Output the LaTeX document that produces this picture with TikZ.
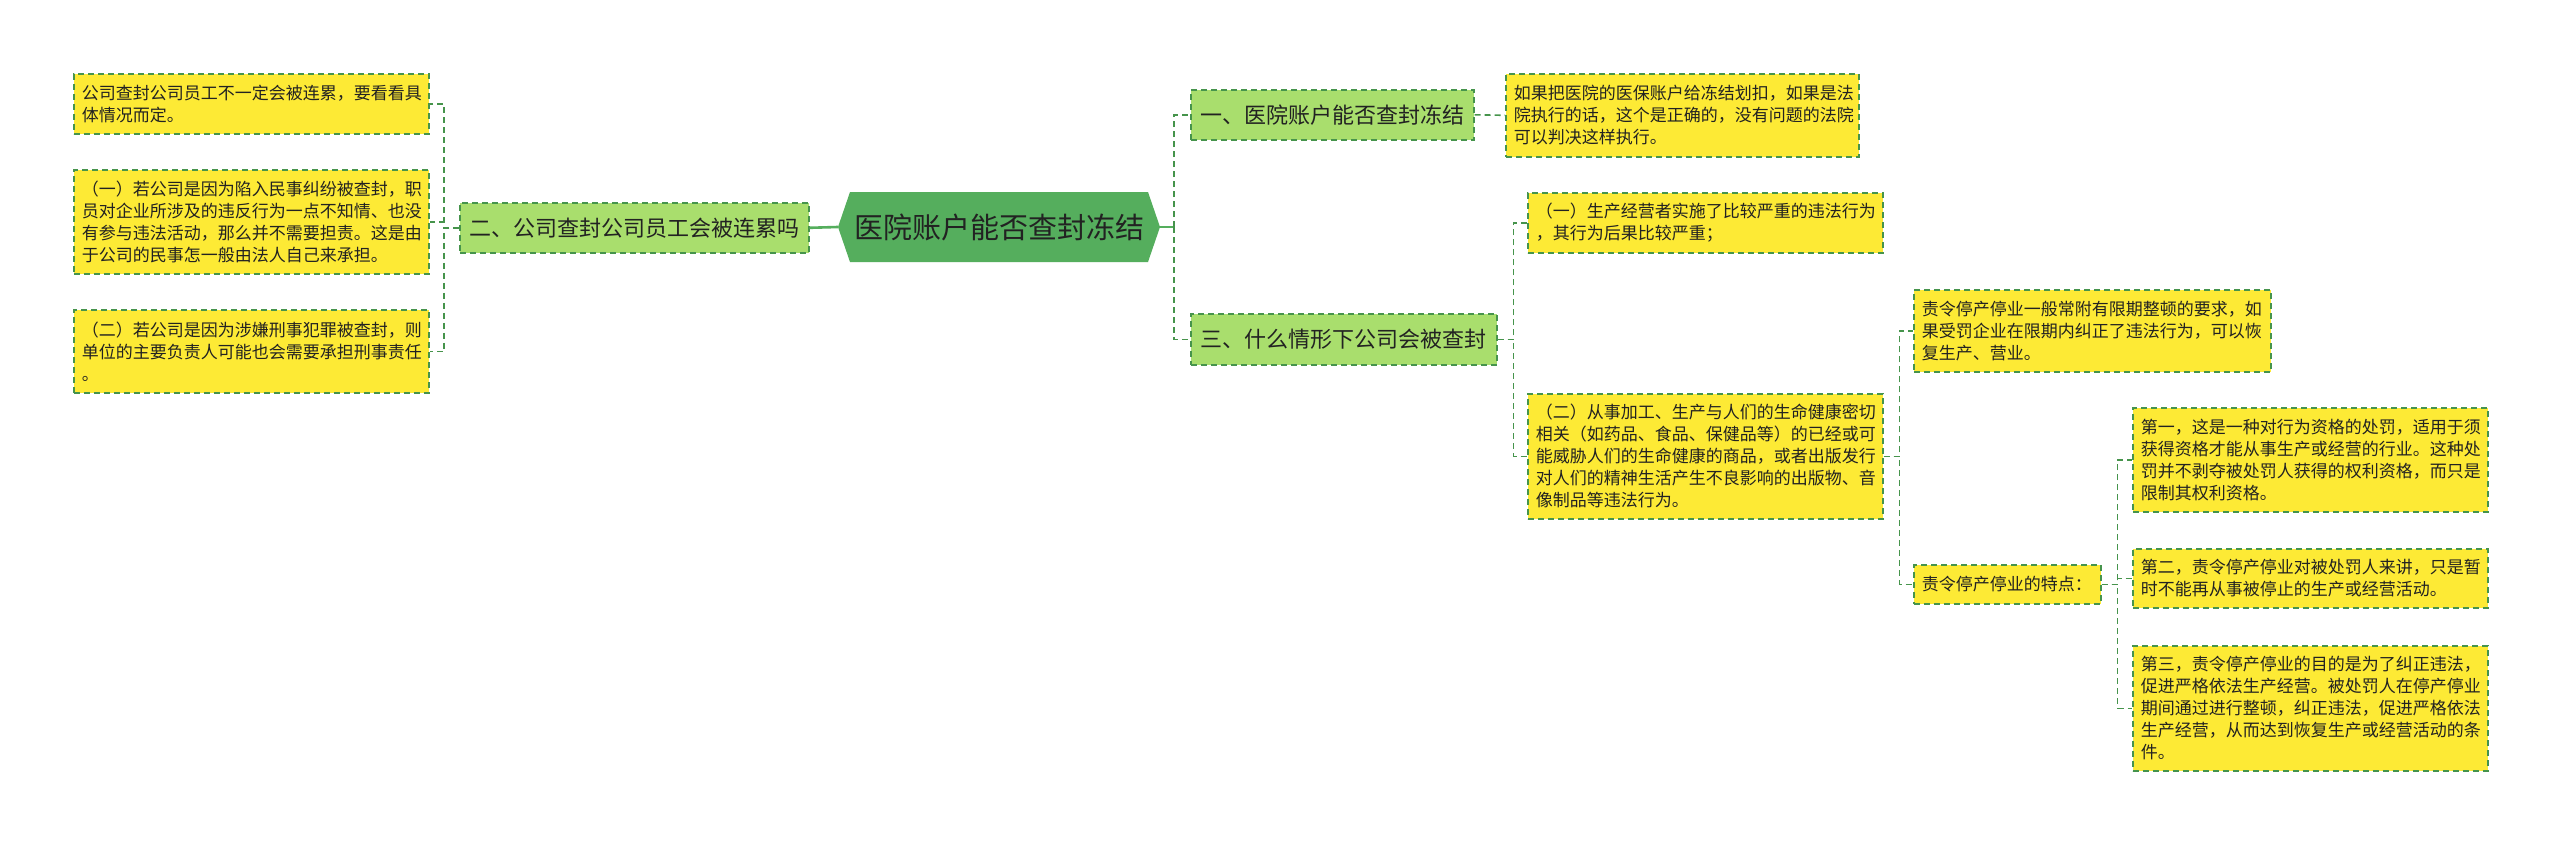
\documentclass[tikz,border=0pt]{standalone}
\usepackage{fontspec}
\newfontfamily\cjk{Noto Sans CJK SC}
\definecolor{yel}{HTML}{FDEA35}
\definecolor{lgreen}{HTML}{A9DE6D}
\definecolor{rgreen}{HTML}{55AE5D}
\definecolor{lineg}{HTML}{46944C}
\definecolor{txt}{HTML}{222222}
\tikzset{
  ybox/.style={draw=lineg, dash pattern=on 6pt off 4pt, line width=1.6pt, fill=yel,
    anchor=north west, inner xsep=8pt, inner ysep=0pt, align=left, text=txt,
    font=\cjk\fontsize{17}{22}\selectfont},
  gbox/.style={draw=lineg, dash pattern=on 6pt off 4pt, line width=1.6pt, fill=lgreen,
    anchor=north west, inner xsep=8pt, inner ysep=0pt, align=center, text=txt,
    font=\cjk\fontsize{22}{26}\selectfont},
  conn/.style={draw=lineg, dash pattern=on 6pt off 4pt, line width=1.6pt},
  solidconn/.style={draw=rgreen, line width=2.6pt},
}
\begin{document}
\begin{tikzpicture}[x=1pt,y=-1pt]
\useasboundingbox (0,0) rectangle (2560,843);
\fill[white] (0,0) rectangle (2560,843);

% root hexagon
\fill[rgreen] (850,192) -- (1148,192) -- (1160,227) -- (1148,262) -- (850,262) -- (838,227) -- cycle;
\node[minimum width=322pt, minimum height=70pt, inner sep=0pt, text=txt,
  font=\cjk\fontsize{29}{34}\selectfont] (root) at (999,227) {医院账户能否查封冻结};

% left side
\node[gbox, minimum width=349pt, minimum height=50pt, text width=333pt] (L1) at (459,202) {二、公司查封公司员工会被连累吗};
\node[ybox, minimum width=355pt, minimum height=60pt, text width=339pt] (a1) at (73,73)
  {公司查封公司员工不一定会被连累，要看看具\\体情况而定。};
\node[ybox, minimum width=355pt, minimum height=104pt, text width=339pt] (a2) at (73,169)
  {（一）若公司是因为陷入民事纠纷被查封，职\\员对企业所涉及的违反行为一点不知情、也没\\有参与违法活动，那么并不需要担责。这是由\\于公司的民事怎一般由法人自己来承担。};
\node[ybox, minimum width=355pt, minimum height=83pt, text width=339pt] (a3) at (73,309)
  {（二）若公司是因为涉嫌刑事犯罪被查封，则\\单位的主要负责人可能也会需要承担刑事责任\\。};

% right side level 1
\node[gbox, minimum width=283pt, minimum height=50pt, text width=267pt] (n1) at (1190,89) {一、医院账户能否查封冻结};
\node[gbox, minimum width=306pt, minimum height=51pt, text width=290pt] (n3) at (1190,313) {三、什么情形下公司会被查封};

\node[ybox, minimum width=353pt, minimum height=83pt, text width=337pt] (hosp) at (1505,73)
  {如果把医院的医保账户给冻结划扣，如果是法\\院执行的话，这个是正确的，没有问题的法院\\可以判决这样执行。};
\node[ybox, minimum width=355pt, minimum height=60pt, text width=339pt] (m1) at (1527,192)
  {（一）生产经营者实施了比较严重的违法行为\\，其行为后果比较严重；};
\node[ybox, minimum width=355pt, minimum height=125pt, text width=339pt] (m2) at (1527,393)
  {（二）从事加工、生产与人们的生命健康密切\\相关（如药品、食品、保健品等）的已经或可\\能威胁人们的生命健康的商品，或者出版发行\\对人们的精神生活产生不良影响的出版物、音\\像制品等违法行为。};
\node[ybox, minimum width=357pt, minimum height=82pt, text width=341pt] (z1) at (1913,289)
  {责令停产停业一般常附有限期整顿的要求，如\\果受罚企业在限期内纠正了违法行为，可以恢\\复生产、营业。};
\node[ybox, minimum width=187pt, minimum height=39pt, text width=171pt] (z2) at (1913,564)
  {责令停产停业的特点：};
\node[ybox, minimum width=355pt, minimum height=104pt, text width=339pt] (d1) at (2132,407)
  {第一，这是一种对行为资格的处罚，适用于须\\获得资格才能从事生产或经营的行业。这种处\\罚并不剥夺被处罚人获得的权利资格，而只是\\限制其权利资格。};
\node[ybox, minimum width=355pt, minimum height=59pt, text width=339pt] (d2) at (2132,548)
  {第二，责令停产停业对被处罚人来讲，只是暂\\时不能再从事被停止的生产或经营活动。};
\node[ybox, minimum width=355pt, minimum height=125pt, text width=339pt] (d3) at (2132,645)
  {第三，责令停产停业的目的是为了纠正违法，\\促进严格依法生产经营。被处罚人在停产停业\\期间通过进行整顿，纠正违法，促进严格依法\\生产经营，从而达到恢复生产或经营活动的条\\件。};

% connectors
\draw[solidconn] (root.west) -- (L1.east);
\draw[conn] (L1.west) -- ++(-15,0) |- (a1.east);
\draw[conn] (L1.west) -- ++(-15,0) |- (a2.east);
\draw[conn] (L1.west) -- ++(-15,0) |- (a3.east);

\draw[solidconn] (root.east) -- ++(14,0) coordinate (rb);
\draw[conn] (rb) |- (n1.west);
\draw[conn] (rb) |- (n3.west);

\draw[conn] (n1.east) -- (hosp.west);
\draw[conn] (n3.east) -- ++(16,0) |- (m1.west);
\draw[conn] (n3.east) -- ++(16,0) |- (m2.west);
\draw[conn] (m2.east) -- ++(16,0) |- (z1.west);
\draw[conn] (m2.east) -- ++(16,0) |- (z2.west);
\draw[conn] (z2.east) -- ++(16,0) |- (d1.west);
\draw[conn] (z2.east) -- ++(16,0) |- (d2.west);
\draw[conn] (z2.east) -- ++(16,0) |- (d3.west);
\end{tikzpicture}
\end{document}
